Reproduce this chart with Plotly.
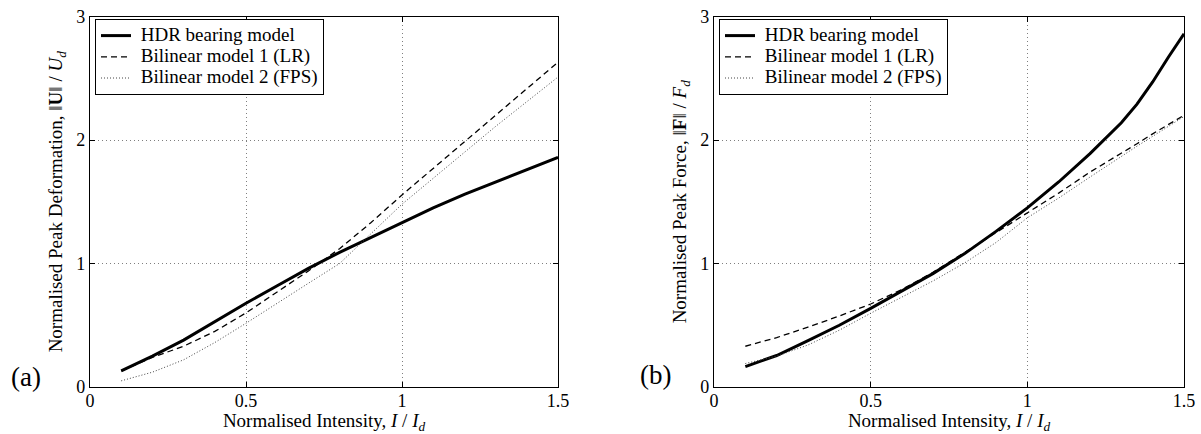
import plotly.graph_objects as go

# ---- data ----
intensity = [0.1, 0.2, 0.3, 0.4, 0.5, 0.6, 0.7, 0.8, 0.9, 1.0, 1.1, 1.2, 1.3, 1.4, 1.5]

# (a) Normalised peak deformation
defo_hdr = [0.13, 0.25, 0.38, 0.53, 0.678, 0.82, 0.96, 1.09, 1.21, 1.33, 1.45, 1.56, 1.66, 1.76, 1.86]
defo_lr = [0.13, 0.24, 0.33, 0.45, 0.60, 0.77, 0.94, 1.12, 1.33, 1.555, 1.77, 1.985, 2.20, 2.415, 2.63]
defo_fps = [0.05, 0.12, 0.22, 0.36, 0.516, 0.68, 0.84, 1.00, 1.24, 1.48, 1.69, 1.90, 2.11, 2.31, 2.51]

# (b) Normalised peak force
intensity_b = [0.1, 0.2, 0.3, 0.4, 0.5, 0.6, 0.7, 0.8, 0.9, 1.0, 1.1, 1.2, 1.3, 1.35, 1.4, 1.45, 1.5]
force_hdr = [0.165, 0.255, 0.375, 0.50, 0.637, 0.78, 0.92, 1.08, 1.26, 1.45, 1.66, 1.89, 2.14, 2.29, 2.47, 2.67, 2.86]
force_lr = [0.33, 0.40, 0.485, 0.575, 0.672, 0.79, 0.93, 1.09, 1.25, 1.41, 1.57, 1.74, 1.89, 1.97, 2.05, 2.125, 2.20]
force_fps = [0.19, 0.25, 0.34, 0.46, 0.597, 0.73, 0.86, 1.005, 1.17, 1.37, 1.53, 1.70, 1.87, 1.95, 2.03, 2.11, 2.19]

series_names = ["HDR bearing model", "Bilinear model 1 (LR)", "Bilinear model 2 (FPS)"]
x_ticks = [0, 0.5, 1, 1.5]
x_ticktext = ["0", "0.5", "1", "1.5"]
y_ticks = [0, 1, 2, 3]
y_ticktext = ["0", "1", "2", "3"]

FONT = "Liberation Serif, Times New Roman, serif"
W, H = 1201, 434

styles = [
    dict(color="black", width=3, dash="solid"),
    dict(color="black", width=1.3, dash="6px,4px"),
    dict(color="#444444", width=1, dash="1px,2px"),
]

fig = go.Figure()

for xs, ys_list, xa, ya, leg in [
    (intensity, [defo_hdr, defo_lr, defo_fps], "x", "y", "legend"),
    (intensity_b, [force_hdr, force_lr, force_fps], "x2", "y2", "legend2"),
]:
    for name, ys, st in zip(series_names, ys_list, styles):
        fig.add_trace(go.Scatter(
            x=xs, y=ys, mode="lines",
            name='<span style="font-size:19px">&nbsp;' + name + "</span>",
            line=st, xaxis=xa, yaxis=ya, legend=leg, showlegend=True,
        ))

def px_x(p):
    return p / W

def px_y(p):
    return (H - p) / H

axis_common = dict(
    showline=True, linecolor="black", linewidth=1.2, mirror="ticks",
    ticks="inside", ticklen=5, tickcolor="black", tickwidth=1,
    showgrid=True, gridcolor="#7f7f7f", gridwidth=1, griddash="1px,3px",
    zeroline=False, automargin=False,
    tickfont=dict(family=FONT, size=18, color="black"),
)

xdom_a = [px_x(90), px_x(558)]
xdom_b = [px_x(714), px_x(1184)]
ydom = [px_y(387), px_y(16.5)]

xtitle = "Normalised Intensity, <i>I</i> / <i>I</i><sub><i>d</i></sub>"

legend_common = dict(
    xanchor="left", yanchor="top",
    bordercolor="black", borderwidth=1, bgcolor="white",
    font=dict(family=FONT, size=14), itemwidth=30, tracegroupgap=0,
)

fig.update_layout(
    width=W, height=H,
    margin=dict(l=0, r=0, t=0, b=0),
    paper_bgcolor="white", plot_bgcolor="white",
    font=dict(family=FONT, color="black", size=18),
    xaxis=dict(axis_common, domain=xdom_a, anchor="y", range=[0, 1.5],
               tickvals=x_ticks, ticktext=x_ticktext, ticklabelstandoff=-3,
               title=dict(text=xtitle, font=dict(family=FONT, size=19), standoff=2)),
    yaxis=dict(axis_common, domain=ydom, anchor="x", range=[0, 3],
               tickvals=y_ticks, ticktext=y_ticktext,
               title=dict(text="Normalised Peak Deformation, \u2016<b>U</b>\u2016 / <i>U</i><sub><i>d</i></sub>",
                          font=dict(family=FONT, size=19), standoff=8)),
    xaxis2=dict(axis_common, domain=xdom_b, anchor="y2", range=[0, 1.5],
                tickvals=x_ticks, ticktext=x_ticktext, ticklabelstandoff=-3,
                title=dict(text=xtitle, font=dict(family=FONT, size=19), standoff=2)),
    yaxis2=dict(axis_common, domain=ydom, anchor="x2", range=[0, 3],
                tickvals=y_ticks, ticktext=y_ticktext,
                title=dict(text="Normalised Peak Force, \u2016<b>F</b>\u2016 / <i>F</i><sub><i>d</i></sub>",
                           font=dict(family=FONT, size=19), standoff=8)),
    legend=dict(legend_common, x=px_x(95), y=px_y(19)),
    legend2=dict(legend_common, x=px_x(719), y=px_y(19)),
    annotations=[
        dict(text="(a)", x=px_x(26), y=px_y(377), xref="paper", yref="paper",
             xanchor="center", yanchor="middle",
             showarrow=False, font=dict(family=FONT, size=27)),
        dict(text="(b)", x=px_x(655), y=px_y(375), xref="paper", yref="paper",
             xanchor="center", yanchor="middle",
             showarrow=False, font=dict(family=FONT, size=27)),
    ],
)

fig.write_html("out.html", config={"displayModeBar": False},
               post_script="document.body.style.margin='0';")
